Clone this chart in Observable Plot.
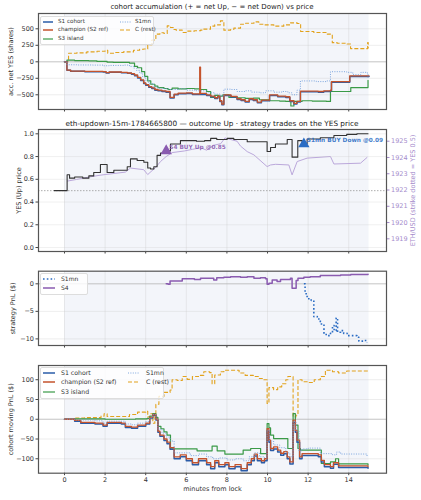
<!DOCTYPE html>
<html><head><meta charset="utf-8">
<script src="https://cdn.jsdelivr.net/npm/d3@7"></script>
<script src="https://cdn.jsdelivr.net/npm/@observablehq/plot@0.6"></script>
<style>
body{margin:0;background:#fff;font-family:"DejaVu Sans",sans-serif;}
#wrap{position:relative;width:421px;height:500px;overflow:hidden;background:#fff;}
.title{position:absolute;left:38px;width:348px;text-align:center;color:#222;white-space:nowrap;line-height:1;}
.lg{position:absolute;color:#333;white-space:nowrap;line-height:1;display:flex;align-items:center;}
.lgbox{position:absolute;background:rgba(255,255,255,0.8);border:0.6px solid #ddd;border-radius:2px;}
</style></head>
<body><div id="wrap"></div>
<script>
// ---------------- data ----------------
const minutesTicks = [0,2,4,6,8,10,12,14];
const windowStart = 0, windowEnd = 15;

// Panel 1: accumulated net YES (shares)
const accS1 = [[0,0],[0.12,-130],[0.3,-145],[1.0,-150],[1.9,-155],[2.05,-170],[2.2,-160],[2.8,-165],[3.1,-175],[3.3,-190],[3.45,-210],[3.6,-245],[3.75,-285],[3.9,-330],[4.0,-355],[4.15,-385],[4.3,-405],[4.45,-430],[4.6,-440],[4.8,-450],[5.0,-460],[5.2,-550],[5.4,-500],[5.6,-485],[6.0,-480],[6.3,-495],[6.7,-495],[7.0,-510],[7.2,-530],[7.4,-555],[7.55,-530],[7.65,-600],[7.75,-650],[7.85,-510],[8.2,-535],[8.5,-570],[8.7,-585],[8.9,-610],[9.1,-570],[9.3,-585],[9.5,-620],[9.7,-590],[10.1,-510],[10.5,-530],[10.9,-540],[11.1,-600],[11.3,-640],[11.45,-610],[11.62,-455],[12.5,-460],[12.77,-450],[13.1,-440],[13.15,-310],[14.05,-222],[15,-222]];
const accChamp = [[0,0],[0.12,-125],[0.3,-140],[1.0,-145],[1.9,-150],[2.05,-165],[2.2,-155],[2.8,-160],[3.1,-170],[3.3,-180],[3.45,-200],[3.6,-235],[3.75,-275],[3.9,-320],[4.0,-345],[4.15,-375],[4.3,-395],[4.45,-420],[4.6,-430],[4.8,-440],[5.0,-450],[5.2,-540],[5.4,-490],[5.6,-475],[6.0,-470],[6.3,-485],[6.65,-490],[6.66,-80],[6.7,-480],[7.0,-500],[7.2,-520],[7.4,-545],[7.55,-520],[7.65,-590],[7.75,-640],[7.85,-500],[8.2,-525],[8.5,-560],[8.7,-575],[8.9,-600],[9.1,-560],[9.3,-575],[9.5,-610],[9.7,-580],[10.1,-500],[10.5,-520],[10.9,-530],[11.1,-590],[11.3,-630],[11.45,-600],[11.62,-445],[12.5,-450],[12.77,-440],[13.1,-430],[13.15,-300],[14.05,-212],[15,-212]];
const accS3 = [[0,0],[0.12,25],[0.5,18],[1.2,15],[1.6,5],[2.1,-5],[2.4,-10],[3.2,-20],[3.45,-70],[3.6,-90],[3.8,-150],[3.95,-220],[4.1,-290],[4.25,-340],[4.45,-370],[4.6,-390],[4.9,-405],[5.1,-420],[5.3,-400],[5.6,-410],[6.0,-405],[6.4,-410],[6.7,-420],[7.0,-450],[7.2,-540],[7.4,-510],[7.6,-520],[7.8,-500],[8.1,-540],[8.5,-545],[8.9,-555],[9.3,-550],[9.6,-575],[10.1,-590],[10.6,-595],[10.9,-600],[11.15,-670],[11.3,-600],[11.7,-590],[12.2,-595],[12.9,-600],[13.1,-450],[14.1,-390],[14.95,-280]];
const accS1mn = [[0,0],[0.12,-45],[0.6,-48],[1.4,-50],[1.9,-60],[2.2,-55],[2.9,-50],[3.2,-70],[3.4,-95],[3.55,-130],[3.7,-170],[3.85,-230],[4.0,-280],[4.15,-330],[4.4,-380],[4.6,-400],[4.9,-410],[5.2,-420],[5.6,-410],[6.0,-430],[6.5,-440],[7.0,-470],[7.4,-490],[7.7,-520],[7.85,-415],[8.2,-420],[8.5,-450],[8.9,-440],[9.2,-460],[9.6,-470],[9.9,-440],[10.3,-460],[10.7,-450],[11.0,-470],[11.2,-500],[11.45,-430],[11.62,-290],[12.4,-300],[12.9,-290],[13.1,-150],[13.9,-160],[14.2,-195],[14.6,-160],[14.9,-170],[14.95,-240]];
const accC = [[0,0],[0.2,130],[0.6,135],[1.1,150],[1.6,160],[2.0,175],[2.13,130],[2.5,140],[2.9,150],[3.4,175],[3.7,190],[3.9,195],[4.1,260],[4.3,330],[4.5,420],[4.7,440],[4.9,430],[5.06,545],[5.22,520],[5.39,490],[5.5,480],[5.8,445],[6.04,465],[6.4,470],[6.7,480],[6.86,495],[7.19,540],[7.4,560],[7.68,620],[7.85,480],[8.18,490],[8.34,510],[8.67,570],[8.92,585],[9.33,605],[9.57,570],[9.82,560],[10.31,540],[10.8,560],[11.13,590],[11.46,580],[11.63,460],[12.28,445],[12.94,420],[13.19,290],[13.43,280],[13.92,270],[14.09,200],[14.91,200],[14.93,290],[14.96,200]];
const accTicks = [-500,-250,0,250,500];

// Panel 2: YES price and ETH/USD
const yesPrice = [[-0.5,0.5],[0.13,0.64],[0.25,0.61],[0.5,0.62],[0.9,0.61],[1.2,0.63],[1.44,0.66],[1.77,0.73],[2.1,0.66],[2.43,0.68],[3.09,0.71],[3.25,0.78],[3.58,0.765],[3.91,0.75],[4.1,0.70],[4.24,0.69],[4.4,0.71],[4.56,0.81],[4.73,0.83],[4.9,0.85],[5.22,0.91],[5.71,0.94],[6.5,0.935],[6.9,0.94],[7.2,0.96],[7.5,0.95],[7.68,0.95],[8.01,0.96],[8.34,0.95],[9.0,0.93],[9.98,0.845],[10.15,0.88],[10.39,0.91],[10.97,0.95],[11.21,0.795],[11.49,0.94],[11.71,0.91],[11.95,0.955],[12.6,0.965],[13.27,0.985],[13.9,0.995],[14.4,1.0],[14.95,1.0]];
const ethUsd = [[0.15,1922.55],[0.6,1922.65],[1.0,1922.75],[1.7,1922.9],[2.0,1922.95],[3.0,1923.1],[3.25,1923.35],[3.9,1923.25],[4.1,1922.95],[4.5,1923.4],[4.73,1923.75],[5.0,1924.05],[5.3,1924.3],[5.9,1924.4],[6.3,1924.5],[6.7,1924.6],[7.0,1924.45],[7.35,1924.75],[7.7,1924.85],[7.9,1925.2],[8.5,1925.0],[8.67,1924.7],[9.0,1924.36],[9.33,1924.16],[9.98,1923.44],[10.15,1923.54],[10.4,1923.58],[11.05,1923.54],[11.21,1922.93],[11.46,1923.75],[11.95,1923.96],[13.1,1924.06],[13.27,1923.6],[14.58,1923.65],[14.9,1924.0]];
const strike = 0.5;
const tradeT = [5.01, 11.79];
const tradeP = [0.85, 0.91];
const tradeLabel = ["S4 BUY Up @0.85", "S1mn BUY Down @0.09"];
const priceTicks = [0,0.2,0.4,0.6,0.8,1.0];
const ethTicks = [1919,1920,1921,1922,1923,1924,1925];

// Panel 3: strategy PnL
const pnlS1mn = [[11.79,0],[11.85,-1.8],[11.95,-2.7],[12.15,-3.0],[12.28,-5.95],[12.45,-6.4],[12.6,-7.3],[12.78,-9.2],[12.95,-9.4],[13.1,-9.0],[13.2,-7.6],[13.28,-8.5],[13.38,-6.2],[13.45,-8.8],[13.6,-8.5],[13.75,-9.0],[13.92,-9.4],[14.25,-9.4],[14.4,-9.7],[14.5,-10.4],[14.75,-10.3],[14.9,-10.6]];
const pnlS4 = [[5.01,0],[5.1,-0.1],[5.2,0.5],[5.55,0.5],[5.8,0.9],[6.4,0.8],[6.7,1.0],[7.2,1.0],[7.35,0.7],[7.5,1.1],[7.85,1.2],[8.18,1.3],[8.67,1.2],[9.0,1.3],[9.33,1.0],[9.65,1.1],[9.9,0.9],[9.98,-0.1],[10.07,0.1],[10.23,0.7],[10.47,0.4],[10.64,0.8],[11.13,1.0],[11.21,-0.8],[11.41,0.6],[11.5,1.0],[11.79,1.2],[12.1,1.3],[12.6,1.5],[13.27,1.5],[13.6,1.6],[14.1,1.7],[14.95,1.75]];
const pnlTicks = [-10,-5,0];

// Panel 4: cohort moving PnL ($)
const movS1 = [[0,0],[0.5,-5],[0.8,-10],[1.5,-12],[1.9,-18],[2.1,-10],[2.8,-12],[3.0,-21],[3.3,-23],[3.6,-18],[4.0,-12],[4.2,3],[4.35,10],[4.5,-2],[4.6,-33],[4.7,-43],[4.9,-54],[5.05,-62],[5.2,-76],[5.4,-100],[5.7,-95],[6.0,-105],[6.3,-115],[6.6,-105],[7.0,-115],[7.2,-125],[7.4,-110],[7.6,-120],[7.9,-115],[8.1,-125],[8.4,-120],[8.7,-130],[9.0,-115],[9.2,-105],[9.35,-93],[9.5,-105],[9.7,-110],[9.85,-105],[9.98,-30],[10.07,-58],[10.15,-79],[10.3,-75],[10.5,-83],[10.65,-91],[10.8,-87],[10.97,-100],[11.1,-113],[11.26,-8],[11.37,-33],[11.45,-58],[11.58,-100],[11.7,-92],[12.5,-95],[12.65,-108],[12.8,-120],[13.1,-124],[13.25,-114],[13.5,-122],[14.95,-124]];
const movChamp = [[0,0],[0.5,-3],[0.8,-8],[1.5,-10],[1.9,-15],[2.1,-8],[2.8,-10],[3.0,-18],[3.3,-20],[3.6,-15],[4.0,-10],[4.2,5],[4.35,12],[4.5,0],[4.6,-30],[4.7,-40],[4.9,-50],[5.05,-58],[5.2,-72],[5.4,-95],[5.7,-90],[6.0,-100],[6.3,-110],[6.6,-100],[7.0,-110],[7.2,-120],[7.4,-105],[7.6,-115],[7.9,-110],[8.1,-120],[8.4,-115],[8.7,-125],[9.0,-110],[9.2,-100],[9.35,-88],[9.5,-100],[9.7,-105],[9.85,-100],[9.98,-24],[10.07,-53],[10.15,-74],[10.3,-70],[10.5,-78],[10.65,-86],[10.8,-82],[10.97,-95],[11.1,-108],[11.26,-2],[11.37,-28],[11.45,-53],[11.58,-95],[11.7,-87],[12.5,-90],[12.65,-104],[12.8,-115],[13.1,-120],[13.25,-110],[13.5,-118],[14.95,-120]];
const movS3 = [[0,0],[0.5,1],[2.0,0],[3.5,1],[4.07,2],[4.2,8],[4.35,14],[4.5,5],[4.6,-18],[4.75,-24],[4.9,-32],[5.05,-40],[5.22,-75],[6.4,-75],[6.53,-80],[7.27,-68],[7.52,-80],[7.9,-88],[8.8,-78],[9.17,-74],[9.66,-87],[9.98,-11],[10.07,-22],[10.15,-40],[10.3,-49],[11.0,-74],[11.26,14],[11.37,-15],[11.5,-74],[11.62,-78],[12.6,-78],[12.65,-112],[13.1,-108],[13.35,-100],[13.5,-113],[14.95,-116]];
const movS1mn = [[0,0],[0.5,-2],[1.5,-4],[1.9,-10],[2.1,-5],[3.0,-12],[3.3,-14],[3.6,-10],[4.0,-6],[4.2,5],[4.35,12],[4.5,0],[4.6,-25],[4.8,-35],[5.0,-45],[5.2,-55],[5.4,-85],[5.9,-85],[6.2,-92],[6.6,-88],[7.0,-95],[7.3,-100],[7.6,-98],[8.0,-103],[8.4,-100],[8.8,-105],[9.1,-95],[9.35,-85],[9.6,-95],[9.85,-98],[9.98,-28],[10.1,-55],[10.3,-65],[10.6,-72],[10.9,-85],[11.1,-95],[11.26,-5],[11.4,-30],[11.55,-80],[11.7,-75],[12.0,-73],[12.6,-87],[13.2,-90],[13.4,-83],[13.6,-88],[14.9,-93]];
const movC = [[0,0],[0.5,3],[1.0,4],[1.8,8],[1.95,14],[2.1,7],[3.2,12],[3.6,18],[4.0,20],[4.1,6],[4.25,14],[4.35,-10],[4.45,10],[4.5,38],[4.65,58],[4.9,68],[5.2,74],[5.3,100],[5.55,98],[5.8,108],[6.04,101],[6.3,108],[6.6,111],[6.86,120],[7.15,118],[7.27,90],[7.4,112],[7.68,120],[7.85,124],[8.34,124],[8.6,117],[8.9,111],[9.3,108],[9.6,103],[9.82,100],[9.98,40],[10.07,80],[10.3,75],[10.5,82],[10.7,90],[10.9,100],[11.0,108],[11.26,6],[11.4,10],[11.5,100],[11.7,95],[12.0,93],[12.3,100],[12.6,108],[12.85,124],[13.2,120],[13.5,117],[13.9,122],[14.95,122]];
const movTicks = [-100,-50,0,50,100];

// ---------------- styling ----------------
const COL = {s1:"#2a5ca8", champ:"#c4532c", s3:"#3a9a47", s1mn:"#6f9ddb", c:"#e2a21c", s4:"#8a5bb0", yes:"#333", eth:"#bba8db", ethTxt:"#a58bcc", s1mnTrade:"#2a6cc4"};
const FONT = "DejaVu Sans";
const xDomain = [-1.28, 15.86];
const wrap = document.getElementById("wrap");
const P = d => d[0], V = d => d[1];
const DOT = {strokeDasharray: "1,1.4", strokeLinecap: "butt"};
const DASH = {strokeDasharray: "4,2", strokeLinecap: "butt"};

function place(svg, top) {
  svg.style.position = "absolute"; svg.style.left = "0px"; svg.style.top = top + "px";
  wrap.appendChild(svg);
}
function common(yTicks) {
  return [
    Plot.rect([{a: windowStart, b: windowEnd}], {x1: "a", x2: "b", fill: "#f3f5fa"}),
    Plot.gridX(minutesTicks, {stroke: "#c8c8c8", strokeOpacity: 0.55, strokeWidth: 0.6}),
    Plot.gridY(yTicks, {stroke: "#c8c8c8", strokeOpacity: 0.55, strokeWidth: 0.6})
  ];
}
function xAxis(withLabels) {
  return withLabels
    ? Plot.axisX(minutesTicks, {tickSize: 2.5, tickPadding: 2, fontSize: 6.5, label: "minutes from lock", labelAnchor: "center", labelArrow: "none", labelOffset: 18, stroke: "#444", fill: "#333"})
    : Plot.axisX(minutesTicks, {tickSize: 2.5, tickFormat: () => "", label: null, stroke: "#444"});
}
function yAxis(ticks, label, fmt, off) {
  return Plot.axisY(ticks, {tickSize: 2.5, tickPadding: 2, fontSize: 6.5, tickFormat: fmt, label, labelAnchor: "center", labelArrow: "none", labelOffset: off, stroke: "#444", fill: "#333"});
}
const frame = () => Plot.frame({stroke: "#555", strokeWidth: 1.2});
const baseStyle = {background: "none", fontFamily: FONT, fontSize: "6.5px", color: "#333", overflow: "visible"};

// Panel 1
place(Plot.plot({
  width: 421, height: 118, marginLeft: 38, marginRight: 35, marginTop: 13, marginBottom: 9,
  x: {domain: xDomain}, y: {domain: [-723, 732]}, style: baseStyle,
  marks: [
    ...common(accTicks),
    Plot.ruleY([0], {stroke: "#aaa", strokeOpacity: 0.7, strokeWidth: 0.8}),
    Plot.line(accC, {x: P, y: V, curve: "step-after", stroke: COL.c, strokeWidth: 1.1, ...DASH}),
    Plot.line(accS3, {x: P, y: V, curve: "step-after", stroke: COL.s3, strokeWidth: 1.2}),
    Plot.line(accS1, {x: P, y: V, curve: "step-after", stroke: COL.s1, strokeWidth: 1.5}),
    Plot.line(accChamp, {x: P, y: V, curve: "step-after", stroke: COL.champ, strokeWidth: 1.3}),
    Plot.line(accS1mn, {x: P, y: V, curve: "step-after", stroke: COL.s1mn, strokeWidth: 0.9, ...DOT}),
    xAxis(false), yAxis(accTicks, "acc. net YES (shares)", d => d3.format("d")(d), 30), frame()
  ]
}), 0);

// Panel 2 (ETH overlay underneath)
place(Plot.plot({
  width: 421, height: 137, marginLeft: 38, marginRight: 35, marginTop: 9, marginBottom: 6,
  x: {domain: xDomain, axis: null}, y: {domain: [1918.22, 1925.72]}, style: baseStyle,
  marks: [
    Plot.rect([{a: windowStart, b: windowEnd}], {x1: "a", x2: "b", fill: "#f3f5fa"}),
    Plot.gridX(minutesTicks, {stroke: "#c8c8c8", strokeOpacity: 0.55, strokeWidth: 0.6}),
    Plot.line(ethUsd, {x: P, y: V, stroke: COL.eth, strokeWidth: 1}),
    Plot.axisY(ethTicks, {anchor: "right", tickSize: 2.5, tickPadding: 2, fontSize: 6.5, tickFormat: d => d3.format("d")(d), stroke: COL.ethTxt, fill: COL.ethTxt, label: "ETH/USD (strike dotted = YES 0.5)", labelAnchor: "center", labelArrow: "none", labelOffset: 28})
  ]
}), 120);
place(Plot.plot({
  width: 421, height: 137, marginLeft: 38, marginRight: 35, marginTop: 9, marginBottom: 6,
  x: {domain: xDomain}, y: {domain: [-0.035, 1.038]}, style: baseStyle,
  marks: [
    Plot.gridY(priceTicks, {stroke: "#c8c8c8", strokeOpacity: 0.45, strokeWidth: 0.6}),
    Plot.ruleY([strike], {stroke: "#999", strokeWidth: 0.8, strokeDasharray: "1.5,1.5"}),
    Plot.line(yesPrice, {x: P, y: V, curve: "step-after", stroke: COL.yes, strokeWidth: 1.1}),
    Plot.dot(tradeT, {x: d => d, y: (d, i) => tradeP[i], symbol: "triangle", r: 4.2, fill: (d, i) => i === 0 ? COL.s4 : COL.s1mnTrade}),
    Plot.text(tradeT, {x: d => d, y: (d, i) => tradeP[i], text: (d, i) => tradeLabel[i], dx: 3, dy: -3.5, textAnchor: "start", fontSize: 5.8, fontWeight: "bold", fill: (d, i) => i === 0 ? COL.s4 : COL.s1mnTrade, fillOpacity: 0.9}),
    xAxis(false), yAxis(priceTicks, "YES (Up) price", d => d3.format(".1f")(d), 22), frame()
  ]
}), 120);

// Panel 3
place(Plot.plot({
  width: 421, height: 86, marginLeft: 38, marginRight: 35, marginTop: 5.7, marginBottom: 6,
  x: {domain: xDomain}, y: {domain: [-11.2, 2.29]}, style: baseStyle,
  marks: [
    ...common(pnlTicks),
    Plot.ruleY([0], {stroke: "#aaa", strokeOpacity: 0.7, strokeWidth: 0.8}),
    Plot.line(pnlS4, {x: P, y: V, curve: "step-after", stroke: COL.s4, strokeWidth: 1.5}),
    Plot.line(pnlS1mn, {x: P, y: V, curve: "step-after", stroke: COL.s1mnTrade, strokeWidth: 1.6, strokeDasharray: "1.6,2.2", strokeLinecap: "butt"}),
    xAxis(false), yAxis(pnlTicks, "strategy PnL ($)", d => d3.format("d")(d), 28), frame()
  ]
}), 265);

// Panel 4
place(Plot.plot({
  width: 421, height: 140, marginLeft: 38, marginRight: 35, marginTop: 5, marginBottom: 27.3,
  x: {domain: xDomain}, y: {domain: [-136.5, 136]}, style: baseStyle,
  marks: [
    ...common(movTicks),
    Plot.ruleY([0], {stroke: "#aaa", strokeOpacity: 0.7, strokeWidth: 0.8}),
    Plot.line(movC, {x: P, y: V, curve: "step-after", stroke: COL.c, strokeWidth: 1.1, ...DASH}),
    Plot.line(movS3, {x: P, y: V, curve: "step-after", stroke: COL.s3, strokeWidth: 1.2}),
    Plot.line(movS1, {x: P, y: V, curve: "step-after", stroke: COL.s1, strokeWidth: 1.5}),
    Plot.line(movChamp, {x: P, y: V, curve: "step-after", stroke: COL.champ, strokeWidth: 1.3}),
    Plot.line(movS1mn, {x: P, y: V, curve: "step-after", stroke: COL.s1mn, strokeWidth: 0.9, ...DOT}),
    xAxis(true), yAxis(movTicks, "cohort moving PnL ($)", d => d3.format("d")(d), 30), frame()
  ]
}), 360);

// ---------------- titles & legends (HTML) ----------------
function title(text, top, size) {
  const d = document.createElement("div"); d.className = "title"; d.textContent = text;
  d.style.top = top + "px"; d.style.fontSize = size + "px"; wrap.appendChild(d);
}
title("cohort accumulation (+ = net Up, \u2212 = net Down) vs price", 3.5, 7);
title("eth-updown-15m-1784665800 \u2014 outcome Up \u00b7 strategy trades on the YES price", 119.5, 7.3);

function legend(items, box, fs) {
  const b = document.createElement("div"); b.className = "lgbox";
  Object.assign(b.style, {left: box[0] + "px", top: box[1] + "px", width: box[2] + "px", height: box[3] + "px"});
  wrap.appendChild(b);
  for (const it of items) {
    const d = document.createElement("div"); d.className = "lg";
    d.style.left = it.x + "px"; d.style.top = (it.y - fs / 2) + "px"; d.style.fontSize = fs + "px"; d.style.height = fs + "px";
    const sw = it.sw;
    d.innerHTML = `<svg width="${sw}" height="4" style="margin-right:${it.gap}px;overflow:visible"><line x1="0" y1="2" x2="${sw}" y2="2" stroke="${it.color}" stroke-width="${it.w}" ${it.dash ? `stroke-dasharray="${it.dash}"` : ""}/></svg><span>${it.name}</span>`;
    wrap.appendChild(d);
  }
}
const lgNames = ["S1 cohort", "champion (S2 ref)", "S3 island", "S1mn", "C (rest)"];
const lgStyles = [[COL.s1, 1.5, null], [COL.champ, 1.5, null], [COL.s3, 1.2, null], [COL.s1mn, 0.9, "1,1.4"], [COL.c, 1.1, "4,2"]];
legend(lgNames.map((n, i) => ({name: n, color: lgStyles[i][0], w: lgStyles[i][1], dash: lgStyles[i][2],
  x: i < 3 ? 43 : 120, y: [21.7, 30, 38.7, 21.7, 30][i], sw: i < 3 ? 10 : 12, gap: i < 3 ? 5 : 3})), [40, 16, 112, 27], 5.6);
legend([{name: "S1mn", color: COL.s1mnTrade, w: 1.6, dash: "1.6,2.2", x: 43, y: 279, sw: 12, gap: 6},
        {name: "S4", color: COL.s4, w: 1.5, dash: null, x: 43, y: 288.3, sw: 12, gap: 6}], [40, 273, 46, 20], 6);
legend(lgNames.map((n, i) => ({name: n, color: lgStyles[i][0], w: lgStyles[i][1], dash: lgStyles[i][2],
  x: i < 3 ? 43 : 128, y: [373.3, 382, 391.7, 373.3, 382][i], sw: 12, gap: 6})), [40, 367, 122, 30], 6.2);
</script></body></html>
